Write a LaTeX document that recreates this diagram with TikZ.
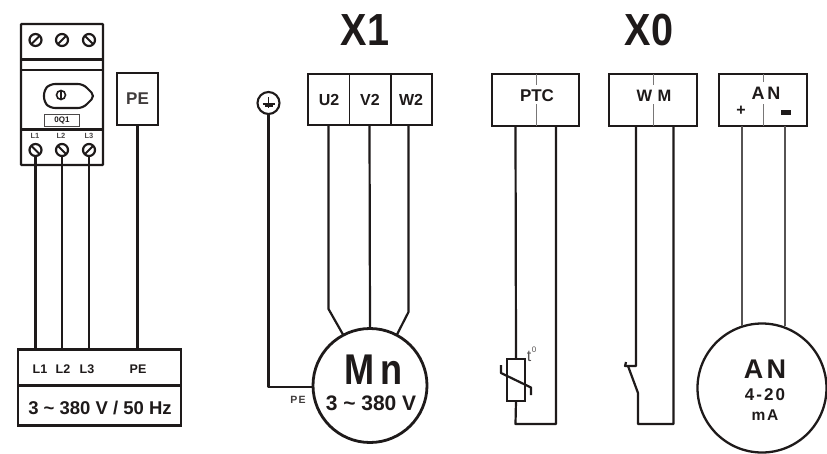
\documentclass[tikz,border=0pt]{standalone}
\usepackage{fontspec}
\setmainfont{Liberation Sans}[BoldFont={Liberation Sans Bold}]
\newfontfamily\spaced{Liberation Sans Bold}[LetterSpace=12]
\definecolor{ink}{HTML}{1E1A1A}
\tikzset{
 x=1pt,y=-1pt,
 every node/.style={inner sep=0pt,outer sep=0pt,text=ink},
 wire/.style={draw=ink,line width=2.2pt,line join=round},
 thinwire/.style={draw=ink!75,line width=1.3pt},
 hair/.style={draw=ink!60,line width=1pt},
 boxx/.style={draw=ink,line width=2.4pt,rectangle,anchor=north west},
 lab/.style={font=\bfseries\fontsize{#1}{#1}\selectfont},
 slab/.style={font=\spaced\fontsize{#1}{#1}\selectfont},
 screw/.style={draw=ink,line width=2.2pt,circle,minimum size=12pt},
}
\newcommand{\sizedbox}[6]{\node[boxx,minimum width=#4,minimum height=#5,#6] (#1) at (#2,#3) {};}
\newcommand{\screwat}[4]{\node[screw] (#1) at (#2,#3) {};
  \draw[ink,line width=2pt] (#1.#4) -- (#1.#4+180);}
\begin{document}
\begin{tikzpicture}
\useasboundingbox[fill=white] (0,0) rectangle (827,453);
% breaker
\draw[ink,line width=2.4pt,rounded corners=.8pt] (21,24) rectangle (103,165);
\draw[ink,line width=2.2pt] (21,59.5)--(103,59.5) (21,70)--(103,70) (21,129.5)--(103,129.5);
\screwat{t1}{35.5}{40}{45}\screwat{t2}{62}{40}{45}\screwat{t3}{89}{40}{135}
\screwat{s1}{35.5}{150}{135}\screwat{s2}{62}{150}{135}\screwat{s3}{89}{150}{45}
\draw[ink,line width=2.1pt,rounded corners=5pt] (50,84)--(83,84)--(95,96)--(83,108)--(50,108)--(44,102)--(44,90)--cycle;
\node[draw=ink,line width=1.6pt,circle,minimum size=9pt] (knob) at (61,95) {};
\draw[ink,line width=1.3pt] (knob.north)--(knob.south);
\node[draw=ink!80,line width=1.3pt,minimum width=35pt,minimum height=12.5pt,lab=8] (q1) at (62,120.5) {0Q1};
\node[lab=7.5,text=ink!80] at (35,136) {L1};
\node[lab=7.5,text=ink!80] at (61,136) {L2};
\node[lab=7.5,text=ink!80] at (89,136) {L3};
% PE box
\sizedbox{pebox}{117}{73}{41pt}{52pt}{}
\node[lab=17,text=ink!85] at (137.5,99) {PE};
% supply box
\sizedbox{supply}{18}{349.5}{163pt}{76pt}{}
\draw[ink,line width=2.2pt] (18,385.5)--(181,385.5);
\node[lab=12.5,anchor=base] at (40,373.5) {L1};
\node[lab=12.5,anchor=base] at (63,373.5) {L2};
\node[lab=12.5,anchor=base] at (87,373.5) {L3};
\node[lab=12.5,anchor=base] at (138,373.5) {PE};
\node[lab=18.5,anchor=base] at (100,414) {3 \char`~\ 380 V / 50 Hz};
\foreach \n/\x in {s1/35.5,s2/62,s3/89}{\draw[wire] (\n.south) -- (\x,349.5);}
\draw[wire] (pebox.south) -- (pebox.south |- supply.north);
% X1
\node[lab=45,xscale=.88,anchor=base] at (365,45) {X1};
\sizedbox{x1}{308}{74}{124pt}{51pt}{}
\draw[ink,line width=1.9pt] (349.5,74)--(349.5,125) (391,74)--(391,125);
\node[lab=16,anchor=base] at (329,105.5) {U2};
\node[lab=16,anchor=base] at (370,105.5) {V2};
\node[lab=16,anchor=base] at (411,105.5) {W2};
% motor
\node[draw=ink,line width=2.8pt,circle,minimum size=114pt,fill=white] (motor) at (370,385.5) {};
\node[lab=43,xscale=.84,anchor=base] at (373.5,384) {M\,n};
\node[lab=21,anchor=base] at (371,410) {3 \char`~\ 380 V};
\coordinate (u) at (328.5,125); \coordinate (v) at (369.5,125); \coordinate (w) at (408.5,125);
\draw[wire] (u)--(328.5,309)--(343,334.5);
\draw[wire] (v)--(motor.north);
\draw[wire] (w)--(408.5,312)--(397,334.5);
% earth
\node[draw=ink,line width=2.1pt,circle,minimum size=22pt] (earth) at (268.5,103) {};
\draw[ink,line width=1.9pt] (268.5,97)--(268.5,108) (262.5,104)--(274.5,104);
\draw[ink,line width=1.9pt] (264.5,106)--(272.5,106);
\coordinate (mleft) at (313.5,387);
\draw[wire] (earth.south)--(268.5,387)--(mleft);
\node[slab=10.5,text=ink!85] at (298,400) {PE};
% X0
\node[lab=45,xscale=.88,anchor=base] at (649,45) {X0};
% PTC
\sizedbox{ptc}{492}{74}{87pt}{52pt}{}
\draw[hair] (536,74)--(536,85) (536,104)--(536,126);
\node[lab=17,anchor=base] at (537,101) {PTC};
\node[draw=ink,line width=2.2pt,minimum width=18pt,minimum height=42pt] (res) at (516,380) {};
\draw[wire] (515.5,126)--(res.north);
\draw[wire] (res.south)--(515.5,424)--(556,424)--(556,126);
\draw[ink,line width=2.2pt,line join=round] (501,365)--(501,373)--(531,387.5)--(531,395);
\node[font=\fontsize{16}{16}\selectfont,text=ink!75] (tz) at (529,356) {t};
\node[font=\fontsize{8}{8}\selectfont,text=ink!75] at (534,349.5) {0};
% WM
\sizedbox{wm}{609}{74}{88pt}{52pt}{}
\draw[hair] (653,74)--(653,85) (653,104)--(653,126);
\node[lab=16.5,anchor=base] at (654,101) {W\,\,M};
\draw[wire] (636,126)--(636,366)--(625,366)--(626,362);
\draw[wire] (628,366)--(638,393)--(638,424)--(673.5,424)--(673.5,126);
% AN
\sizedbox{anb}{719}{74}{88pt}{52pt}{}
\draw[hair] (763.5,74)--(763.5,82) (763.5,104)--(763.5,126);
\node[lab=18,anchor=base] at (766,99.5) {A\,N};
\node[lab=16] at (741,111) {+};
\fill[ink] (781,110) rectangle (790.5,114.5);
\node[draw=ink,line width=2.3pt,circle,minimum size=129pt,fill=white] (an) at (762,388) {};
\draw[thinwire] (742,126)--(742,325.5);
\draw[thinwire] (785,126)--(785,325.5);
\node[slab=27,anchor=base] at (765,378) {AN};
\node[slab=17,anchor=base] at (765,400) {4-20};
\node[slab=15.5,anchor=base] at (765,420.5) {mA};
\end{tikzpicture}
\end{document}
